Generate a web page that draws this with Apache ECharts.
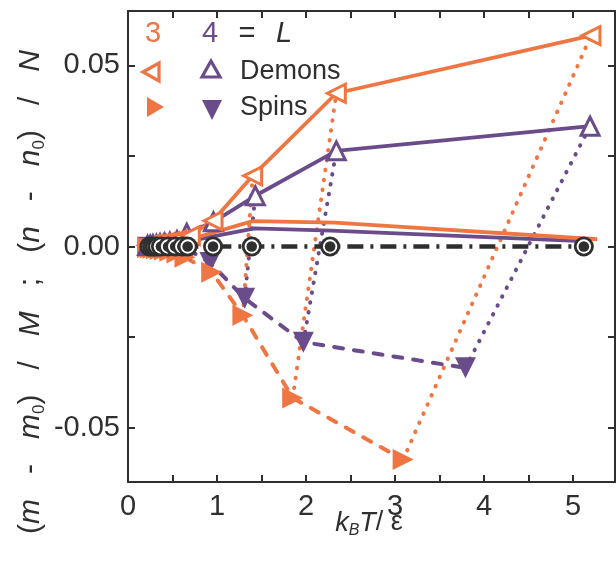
<!DOCTYPE html>
<html>
<head>
<meta charset="utf-8">
<script src="https://cdn.jsdelivr.net/npm/echarts@6/dist/echarts.min.js"></script>
<style>
  html, body { margin: 0; padding: 0; background: #ffffff; }
  #chart { width: 616px; height: 571px; }
</style>
</head>
<body>
<div id="chart"></div>
<script>
// Relative magnetisation offsets of demons and spins against k_B T / ε, for L = 3 and L = 4.

// Demons (open markers, solid lines)
const demonsL3 = [[0.22, 0.0003], [0.25, 0.0004], [0.28, 0.0005], [0.32, 0.0006], [0.36, 0.0008],
                  [0.41, 0.0010], [0.47, 0.0013], [0.55, 0.0018], [0.70, 0.0030], [0.955, 0.0071],
                  [1.40, 0.0195], [2.34, 0.0423], [5.20, 0.0582]];
const demonsL4 = [[0.22, 0.0003], [0.25, 0.0004], [0.28, 0.0005], [0.32, 0.0006], [0.36, 0.0008],
                  [0.41, 0.0010], [0.47, 0.0012], [0.55, 0.0016], [0.66, 0.0036], [0.96, 0.0068],
                  [1.43, 0.0140], [2.34, 0.0264], [5.19, 0.0332]];

// Spins (filled markers, dashed lines)
const spinsL3 = [[0.22, -0.0003], [0.25, -0.0004], [0.28, -0.0005], [0.32, -0.0006], [0.36, -0.0008],
                 [0.41, -0.0010], [0.47, -0.0013], [0.55, -0.0018], [0.64, -0.0030], [0.94, -0.0071],
                 [1.29, -0.0190], [1.85, -0.0418], [3.09, -0.0588]];
const spinsL4 = [[0.22, -0.0002], [0.25, -0.0003], [0.28, -0.0004], [0.32, -0.0005], [0.36, -0.0006],
                 [0.41, -0.0007], [0.47, -0.0008], [0.55, -0.0009], [0.70, -0.0012], [0.92, -0.0044],
                 [1.31, -0.0143], [1.97, -0.0264], [3.79, -0.0335]];

// Combined offsets (solid lines without markers)
const sumL3 = [[0.22, 0.0002], [0.40, 0.0005], [0.67, 0.0018], [1.40, 0.0070], [2.32, 0.0066], [5.27, 0.0020]];
const sumL4 = [[0.22, 0.0002], [0.40, 0.0004], [0.67, 0.0014], [1.42, 0.0050], [2.28, 0.0044], [5.17, 0.0014]];

// Reference temperatures (zero line with circles)
const refT = [0.24, 0.27, 0.30, 0.33, 0.37, 0.45, 0.53, 0.61, 0.67, 0.955, 1.39, 2.27, 5.12];
const refZero = refT.map(t => [t, 0]);

// Number of high-temperature points whose spin/demon pair is joined by a dotted line
const pairedPoints = 4;

// Axis ticks and labels
const xLabels = [0, 1, 2, 3, 4, 5];
const xTicks = [0, 0.5, 1, 1.5, 2, 2.5, 3, 3.5, 4, 4.5, 5];
const yLabels = [-0.05, 0, 0.05];
const yTicks = [-0.05, -0.025, 0, 0.025, 0.05];

const ORANGE = '#EF7543';
const PURPLE = '#6A4C8B';
const DARK = '#2f2f2f';
const FONT = 'Liberation Sans';

const chart = echarts.init(document.getElementById('chart'), null, { renderer: 'canvas' });

function pairSeries(spins, demons, color) {
  const out = [];
  const n = spins.length;
  for (let i = n - pairedPoints; i < n; i++) {
    out.push({
      type: 'line',
      data: [spins[i], demons[i]],
      showSymbol: false,
      silent: true,
      z: 1,
      lineStyle: { color: color, width: 4, type: [0.5, 9.5], cap: 'round' }
    });
  }
  return out;
}

// Ringed circle: dark disc, white ring, dark core — drawn point by point so later ones overlap earlier ones
function ringedCircle(params, api) {
  const p = api.coord([api.value(0), api.value(1)]);
  return {
    type: 'group',
    children: [
      { type: 'circle', shape: { cx: p[0], cy: p[1], r: 10 }, style: { fill: DARK } },
      { type: 'circle', shape: { cx: p[0], cy: p[1], r: 7.2 }, style: { fill: '#ffffff' } },
      { type: 'circle', shape: { cx: p[0], cy: p[1], r: 5.3 }, style: { fill: DARK } }
    ]
  };
}

const axisLineStyle = { color: DARK, width: 2 };

const xBase = {
  type: 'value', min: 0, max: 5.47,
  axisLine: { show: true, onZero: false, lineStyle: axisLineStyle },
  splitLine: { show: false },
  axisTick: { show: true, inside: true, length: 7, customValues: xTicks, lineStyle: axisLineStyle }
};
const yBase = {
  type: 'value', min: -0.065, max: 0.065,
  axisLine: { show: true, onZero: false, lineStyle: axisLineStyle },
  splitLine: { show: false },
  axisTick: { show: true, inside: true, length: 7, customValues: yTicks, lineStyle: axisLineStyle }
};

const option = {
  animation: false,
  backgroundColor: '#ffffff',
  grid: { left: 128, right: 1, top: 11, bottom: 89, containLabel: false },
  xAxis: [
    Object.assign({}, xBase, {
      position: 'bottom',
      axisLabel: { customValues: xLabels, fontSize: 29, color: DARK, fontFamily: FONT, margin: 10 }
    }),
    Object.assign({}, xBase, { position: 'top', axisLabel: { show: false } })
  ],
  yAxis: [
    Object.assign({}, yBase, {
      position: 'left',
      axisLabel: { customValues: yLabels, fontSize: 29, color: DARK, fontFamily: FONT, margin: 8,
                   formatter: v => v.toFixed(2) }
    }),
    Object.assign({}, yBase, { position: 'right', axisLabel: { show: false } })
  ],
  series: [
    ...pairSeries(spinsL4, demonsL4, PURPLE),
    ...pairSeries(spinsL3, demonsL3, ORANGE),
    {
      type: 'line', data: sumL4, showSymbol: false, z: 2,
      lineStyle: { color: PURPLE, width: 3.8 }
    },
    {
      type: 'line', data: sumL3, showSymbol: false, z: 2,
      lineStyle: { color: ORANGE, width: 3.8 }
    },
    {
      type: 'line', data: spinsL4, z: 3,
      symbol: 'triangle', symbolSize: 21, symbolRotate: 180,
      itemStyle: { color: PURPLE },
      lineStyle: { color: PURPLE, width: 4, type: [9, 11], cap: 'round' }
    },
    {
      type: 'line', data: spinsL3, z: 3,
      symbol: 'triangle', symbolSize: 21, symbolRotate: -90,
      itemStyle: { color: ORANGE },
      lineStyle: { color: ORANGE, width: 4, type: [9, 11], cap: 'round' }
    },
    {
      type: 'line', data: demonsL4, z: 4,
      symbol: 'triangle', symbolSize: 18, symbolRotate: 0,
      itemStyle: { color: '#ffffff', borderColor: PURPLE, borderWidth: 3 },
      lineStyle: { color: PURPLE, width: 3.8 }
    },
    {
      type: 'line', data: demonsL3, z: 4,
      symbol: 'triangle', symbolSize: 18, symbolRotate: 90,
      itemStyle: { color: '#ffffff', borderColor: ORANGE, borderWidth: 3 },
      lineStyle: { color: ORANGE, width: 3.8 }
    },
    {
      type: 'line', data: refZero, z: 5, showSymbol: false,
      lineStyle: { color: DARK, width: 4.5, type: [16, 7, 3, 7], cap: 'butt' }
    },
    {
      type: 'custom', data: refZero, z: 6,
      coordinateSystem: 'cartesian2d',
      encode: { x: 0, y: 1 },
      renderItem: ringedCircle
    }
  ],
  graphic: [
    // legend header: 3  4  = L
    { type: 'text', x: 153, y: 34, style: { text: '3', fill: ORANGE, font: '29px "Liberation Sans"', align: 'center', verticalAlign: 'middle' } },
    { type: 'text', x: 210, y: 34, style: { text: '4', fill: PURPLE, font: '29px "Liberation Sans"', align: 'center', verticalAlign: 'middle' } },
    { type: 'text', x: 247, y: 34, style: { text: '=', fill: DARK, font: '29px "Liberation Sans"', align: 'center', verticalAlign: 'middle' } },
    { type: 'text', x: 284, y: 34, style: { text: 'L', fill: DARK, font: 'italic 29px "Liberation Sans"', align: 'center', verticalAlign: 'middle' } },
    // legend rows
    { type: 'polygon', shape: { points: [[143, 72], [159, 63], [159, 81]] }, style: { fill: '#ffffff', stroke: ORANGE, lineWidth: 3.2 } },
    { type: 'polygon', shape: { points: [[211, 61], [220, 77], [202, 77]] }, style: { fill: '#ffffff', stroke: PURPLE, lineWidth: 3.2 } },
    { type: 'text', x: 240, y: 72, style: { text: 'Demons', fill: DARK, font: '27px "Liberation Sans"', align: 'left', verticalAlign: 'middle' } },
    { type: 'polygon', shape: { points: [[164, 107], [147, 97], [147, 117]] }, style: { fill: ORANGE } },
    { type: 'polygon', shape: { points: [[202, 100], [222, 100], [212, 120]] }, style: { fill: PURPLE } },
    { type: 'text', x: 240, y: 108, style: { text: 'Spins', fill: DARK, font: '27px "Liberation Sans"', align: 'left', verticalAlign: 'middle' } },
    // y axis title
    {
      type: 'text', x: 31, y: 292, rotation: Math.PI / 2,
      style: {
        text: '{p|(}{i|m}{p|   -   }{i|m}{s|0}{p|)   /   }{i|M}{p|   ;   (}{i|n}{p|   -   }{i|n}{s|0}{p|)   /   }{i|N}',
        align: 'center', verticalAlign: 'middle', fill: DARK,
        rich: {
          p: { font: '30px "Liberation Sans"', fill: DARK, lineHeight: 34 },
          i: { font: 'italic 30px "Liberation Sans"', fill: DARK, lineHeight: 34 },
          s: { font: '17px "Liberation Sans"', fill: DARK, lineHeight: 17, verticalAlign: 'bottom' }
        }
      }
    },
    // x axis title
    {
      type: 'text', x: 369, y: 523,
      style: {
        text: '{i|k}{s|B}{i|T}{p|/ ε}',
        align: 'center', verticalAlign: 'middle', fill: DARK,
        rich: {
          p: { font: '27px "Liberation Sans"', fill: DARK, lineHeight: 32 },
          i: { font: 'italic 27px "Liberation Sans"', fill: DARK, lineHeight: 32 },
          s: { font: 'italic 16px "Liberation Sans"', fill: DARK, lineHeight: 16, verticalAlign: 'bottom' }
        }
      }
    }
  ]
};

chart.setOption(option);
</script>
</body>
</html>
